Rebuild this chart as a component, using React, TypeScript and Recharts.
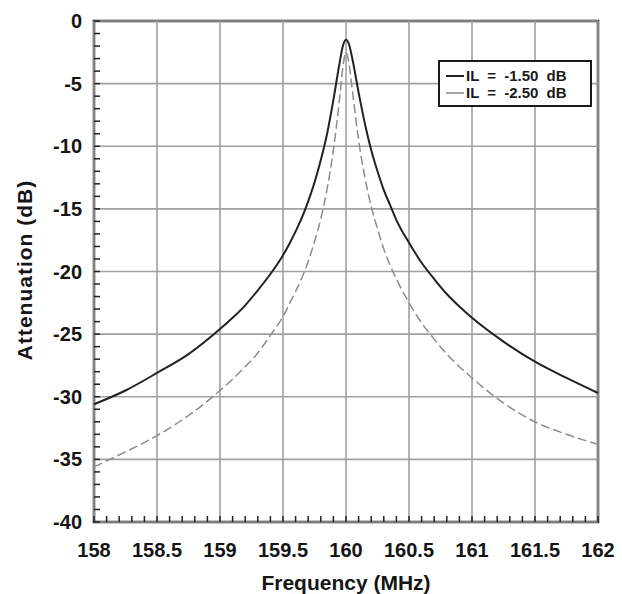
import React from "react"
import { LineChart, Line, XAxis, YAxis, ReferenceLine, ReferenceArea, Label } from "recharts"

// frequency points (MHz)
const freqs = [
  158, 158.25, 158.5, 158.75, 159, 159.1, 159.2, 159.3, 159.4, 159.5, 159.55, 159.6, 159.65, 159.7,
  159.75, 159.8, 159.85, 159.9, 159.95, 159.975, 160, 160.025, 160.05, 160.1, 160.15, 160.2, 160.25,
  160.3, 160.35, 160.4, 160.5, 160.6, 160.7, 160.8, 160.9, 161, 161.25, 161.5, 161.75, 162,
]

// IL = -1.50 dB (solid)
const il150 = [
  -30.6, -29.5, -28.1, -26.6, -24.6, -23.7, -22.7, -21.5, -20.2, -18.7, -17.8, -16.8, -15.7, -14.4,
  -12.9, -11.1, -9.0, -6.3, -3.3, -2.0, -1.5, -1.9, -3.0, -5.7, -8.2, -10.3, -12.0,
  -13.5, -14.7, -15.9, -17.7, -19.3, -20.6, -21.8, -22.8, -23.7, -25.6, -27.2, -28.5, -29.7,
]

// IL = -2.50 dB (dashed)
const il250 = [
  -35.6, -34.4, -33.1, -31.5, -29.5, -28.6, -27.6, -26.5, -25.1, -23.6, -22.6, -21.6, -20.5, -19.2,
  -17.6, -15.8, -13.4, -10.3, -6.1, -3.7, -2.5, -3.5, -5.5, -9.5, -12.5, -14.8, -16.6,
  -18.2, -19.5, -20.6, -22.5, -24.1, -25.4, -26.6, -27.6, -28.5, -30.5, -32.0, -33.0, -33.8,
]

const seriesNames = ["IL = -1.50 dB", "IL = -2.50 dB"]

const xMajor = [158, 158.5, 159, 159.5, 160, 160.5, 161, 161.5, 162]
const yMajor = [0, -5, -10, -15, -20, -25, -30, -35, -40]

const xMinor = Array.from({ length: 41 }, (_, i) => Math.round((158 + i * 0.1) * 10) / 10)
const yMinor = Array.from({ length: 41 }, (_, i) => -40 + i)

const data = freqs.map((f, i) => ({ f, a: il150[i], b: il250[i] }))

const font = "'Liberation Sans', Arial, Helvetica, sans-serif"
const tickStyle = { fontSize: 20, fill: "#151515", fontFamily: font, fontWeight: 700 }

const isMajorX = (v: number) => Math.abs(v * 2 - Math.round(v * 2)) < 1e-6

export default function App() {
  return (
    <div style={{ position: "absolute", left: 0, top: 0, width: 622, height: 594, background: "#fff" }}>
      <LineChart width={622} height={594} data={data} margin={{ top: 21, right: 24, bottom: 0, left: 0 }}>
        {xMajor.map((v) => (
          <ReferenceLine key={`gx${v}`} x={v} stroke="#a0a0a0" strokeWidth={1.6} />
        ))}
        {yMajor.map((v) => (
          <ReferenceLine key={`gy${v}`} y={v} stroke="#a0a0a0" strokeWidth={1.6} />
        ))}
        <XAxis
          dataKey="f"
          type="number"
          domain={[158, 162]}
          ticks={xMinor}
          interval={0}
          height={72}
          axisLine={false}
          tickSize={-6}
          tickMargin={27}
          tickLine={{ stroke: "#222", strokeWidth: 1.5 }}
          tick={tickStyle}
          tickFormatter={(v: number) => (isMajorX(v) ? String(v) : "")}
        >
          <Label
            content={() => (
              <text x={346} y={590} textAnchor="middle" fontSize={21} fontWeight={700} fontFamily={font} fill="#151515">
                Frequency (MHz)
              </text>
            )}
          />
        </XAxis>
        <YAxis
          type="number"
          domain={[-40, 0]}
          ticks={yMinor}
          interval={0}
          width={94}
          axisLine={false}
          tickSize={-6}
          tickMargin={18}
          tickLine={{ stroke: "#222", strokeWidth: 1.5 }}
          tick={tickStyle}
          tickFormatter={(v: number) => (v % 5 === 0 ? String(v) : "")}
        >
          <Label
            content={() => (
              <text
                x={32}
                y={270}
                transform="rotate(-90 32 270)"
                textAnchor="middle"
                fontSize={21}
                fontWeight={700}
                letterSpacing={1}
                fontFamily={font}
                fill="#151515"
              >
                Attenuation (dB)
              </text>
            )}
          />
        </YAxis>
        <Line
          type="monotone"
          dataKey="b"
          name={seriesNames[1]}
          stroke="#8c8c8c"
          strokeWidth={1.5}
          strokeDasharray="9 4"
          dot={false}
          isAnimationActive={false}
        />
        <Line
          type="monotone"
          dataKey="a"
          name={seriesNames[0]}
          stroke="#222"
          strokeWidth={2}
          dot={false}
          isAnimationActive={false}
        />
        <ReferenceArea x1={158} x2={162} y1={-40} y2={0} fill="none" stroke="#1a1a1a" strokeWidth={2.5} />
      </LineChart>
      <div
        style={{
          position: "absolute",
          left: 438,
          top: 60,
          width: 154,
          height: 47,
          boxSizing: "border-box",
          border: "2px solid #1a1a1a",
          background: "#fff",
          fontFamily: font,
          fontWeight: 700,
          fontSize: 15,
          color: "#1a1a1a",
          padding: "5px 0 0 6px",
          lineHeight: "17px",
        }}
      >
        {seriesNames.map((n, i) => (
          <div key={n} style={{ display: "flex", alignItems: "center", whiteSpace: "nowrap" }}>
            <svg width={18} height={10} style={{ marginRight: 2 }}>
              <line
                x1={0}
                y1={5}
                x2={18}
                y2={5}
                stroke={i === 0 ? "#222" : "#8c8c8c"}
                strokeWidth={i === 0 ? 2 : 1.5}
              />
            </svg>
            <span style={{ wordSpacing: 4 }}>{n}</span>
          </div>
        ))}
      </div>
    </div>
  )
}
